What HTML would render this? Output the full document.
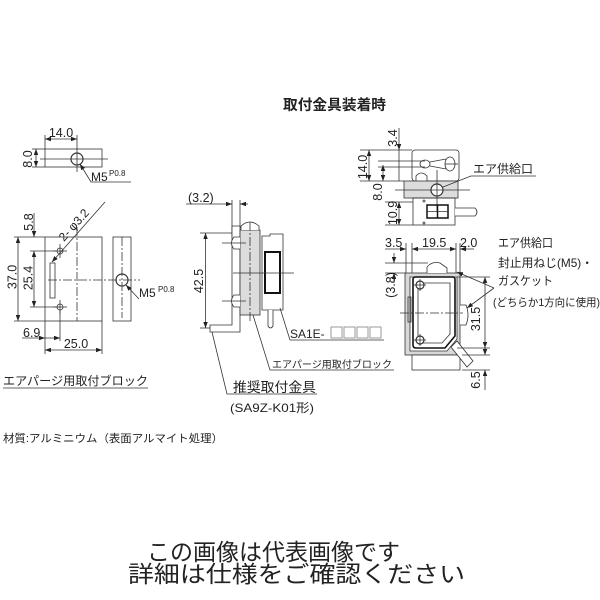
<!DOCTYPE html>
<html><head><meta charset="utf-8"><style>
html,body{margin:0;padding:0;background:#fff;}
svg{display:block;}
text{font-family:"Liberation Sans","Noto Sans CJK JP",sans-serif;fill:#222;}
.j{font-family:"Liberation Sans","Noto Sans CJK JP",sans-serif;}
</style></head><body>
<svg width="600" height="600" viewBox="0 0 600 600" xmlns="http://www.w3.org/2000/svg">
<defs>
<marker id="a" viewBox="0 0 8 6" refX="8" refY="3" markerWidth="6" markerHeight="4.5" markerUnits="userSpaceOnUse" orient="auto-start-reverse"><path d="M0,0 L8,3 L0,6 z" fill="#222"/></marker>
</defs>
<g stroke="#333" stroke-width="0.8" fill="none">

<!-- ===== LEFT TOP VIEW ===== -->
<rect x="45" y="149" width="57" height="18"/>
<circle cx="77" cy="159" r="6" stroke-width="1.2"/>
<line x1="40" y1="159" x2="108" y2="159"/>
<line x1="77" y1="135" x2="77" y2="172"/>
<line x1="45" y1="135" x2="45" y2="149"/>
<line x1="45" y1="139" x2="77" y2="139" marker-start="url(#a)" marker-end="url(#a)"/>
<line x1="32" y1="149" x2="45" y2="149"/>
<line x1="32" y1="167" x2="45" y2="167"/>
<line x1="36" y1="149" x2="36" y2="167" marker-start="url(#a)" marker-end="url(#a)"/>
<polyline points="80,164 91,182 131,182" marker-start="url(#a)"/>

<!-- ===== LEFT FRONT VIEW ===== -->
<rect x="45" y="237" width="57" height="84"/>
<line x1="77" y1="227" x2="77" y2="321" stroke-dasharray="9 2 2 2"/>
<line x1="48" y1="280" x2="140" y2="280" stroke-dasharray="9 2 2 2"/>
<circle cx="60" cy="251" r="3"/>
<line x1="53" y1="251" x2="67" y2="251"/><line x1="60" y1="244" x2="60" y2="258"/>
<circle cx="60" cy="307" r="3"/>
<line x1="53" y1="307" x2="67" y2="307"/><line x1="60" y1="300" x2="60" y2="314"/>
<rect x="50" y="263" width="5" height="35"/>
<line x1="105" y1="202" x2="52" y2="262" marker-end="url(#a)"/>
<!-- left dims -->
<line x1="14" y1="237" x2="45" y2="237"/>
<line x1="14" y1="321" x2="45" y2="321"/>
<line x1="30" y1="251" x2="56" y2="251"/>
<line x1="30" y1="307" x2="58" y2="307"/>
<line x1="18" y1="237" x2="18" y2="321" marker-start="url(#a)" marker-end="url(#a)"/>
<line x1="34" y1="213" x2="34" y2="237" marker-end="url(#a)"/>
<line x1="34" y1="251" x2="34" y2="307" marker-start="url(#a)" marker-end="url(#a)"/>
<!-- bottom dims -->
<line x1="45" y1="321" x2="45" y2="354"/>
<line x1="60" y1="310" x2="60" y2="341"/>
<line x1="102" y1="321" x2="102" y2="354"/>
<line x1="22" y1="338" x2="45" y2="338" marker-end="url(#a)"/>
<line x1="45" y1="338" x2="60" y2="338" marker-end="url(#a)"/>
<line x1="45" y1="350" x2="102" y2="350" marker-start="url(#a)" marker-end="url(#a)"/>
<!-- side view -->
<rect x="113" y="237" width="18" height="84"/>
<line x1="122" y1="237" x2="122" y2="318" stroke-dasharray="9 2 2 2"/>
<circle cx="122" cy="280" r="6" stroke-width="1.2"/>
<line x1="126" y1="285" x2="139" y2="299" marker-start="url(#a)"/>
<line x1="3" y1="388" x2="148" y2="388"/>

<!-- ===== CENTER VIEW ===== -->
<!-- (3.2) -->
<line x1="232" y1="200" x2="232" y2="237"/>
<line x1="240" y1="200" x2="240" y2="228"/>
<line x1="186" y1="204" x2="232" y2="204" marker-end="url(#a)"/>
<line x1="248" y1="204" x2="240" y2="204" marker-end="url(#a)"/>
<!-- 42.5 -->
<line x1="200" y1="233" x2="232" y2="233"/>
<line x1="200" y1="328" x2="212" y2="328"/>
<line x1="205.5" y1="233" x2="205.5" y2="328" marker-start="url(#a)" marker-end="url(#a)"/>
<!-- bracket -->
<path d="M232,226 L240,226 L240,332 L210,332 L210,325 L232,325 Z" fill="#fff"/>
<!-- block -->
<rect x="240" y="230" width="20" height="85" fill="#dcdcdc"/>
<path d="M241,230 L241,226 Q250,218 259,226 L259,230" fill="#fff"/>
<line x1="250" y1="222" x2="250" y2="322" stroke-dasharray="9 2 2 2"/>
<!-- screws -->
<path d="M240,237 L234,237 Q229,243 234,249 L240,249" fill="#fff"/>
<path d="M240,295 L234,295 Q229,301 234,307 L240,307" fill="#fff"/>
<line x1="222" y1="243" x2="246" y2="243"/><line x1="222" y1="301" x2="246" y2="301"/>
<!-- sensor -->
<path d="M262,310 L262,236 L270,236 L270,234 L283,234 L283,310 Z" fill="#fff"/>
<rect x="265" y="252" width="15" height="41" stroke="#111" stroke-width="2"/>
<path d="M268,310 L268,326 Q270.5,330 273,326 L273,310" fill="#fff"/>
<line x1="233" y1="273" x2="294" y2="273"/>
<!-- leaders -->
<polyline points="280,308 290,340 384,340"/>
<polyline points="253,315 270,370 394,370"/>
<polyline points="212,332 227,394 317,394"/>

<!-- ===== RIGHT TOP VIEW ===== -->
<rect x="412" y="150" width="47" height="31" rx="3"/>
<line x1="360" y1="150" x2="412" y2="150"/>
<line x1="360" y1="181" x2="404" y2="181"/>
<line x1="378" y1="161" x2="425" y2="161"/>
<line x1="378" y1="167" x2="425" y2="167"/>
<ellipse cx="425" cy="164" rx="5" ry="4"/>
<ellipse cx="450" cy="164" rx="5" ry="7"/>
<line x1="430" y1="162" x2="446" y2="159"/>
<line x1="430" y1="166" x2="446" y2="169"/>
<line x1="445" y1="164" x2="458" y2="164"/>
<path d="M416,181 L416,176 Q421,170 427,176 L427,181" fill="#fff"/>
<rect x="404" y="181" width="54" height="17" fill="#dcdcdc"/>
<circle cx="437" cy="190" r="6" fill="#fff" stroke-width="1.2"/>
<line x1="395" y1="190" x2="470" y2="190"/>
<line x1="437" y1="170" x2="437" y2="212"/>
<rect x="413" y="198" width="42" height="27"/>
<rect x="427" y="205" width="21" height="13" stroke="#111" stroke-width="1.5"/>
<line x1="437.5" y1="205" x2="437.5" y2="218" stroke="#111" stroke-width="1.5"/>
<line x1="427" y1="211.5" x2="448" y2="211.5"/>
<path d="M455,208 L475,208 Q479,212 475,216 L455,216" fill="#fff"/>
<circle cx="424" cy="201" r="1"/><circle cx="424" cy="223" r="1"/>
<line x1="385" y1="202" x2="413" y2="202"/>
<line x1="385" y1="225" x2="413" y2="225"/>
<line x1="369" y1="150" x2="369" y2="181" marker-start="url(#a)" marker-end="url(#a)"/>
<line x1="383" y1="165" x2="383" y2="181" marker-start="url(#a)" marker-end="url(#a)"/>
<line x1="399" y1="128" x2="399" y2="150" marker-end="url(#a)"/>
<line x1="399" y1="150" x2="399" y2="181"/>
<line x1="399" y1="202" x2="399" y2="225" marker-start="url(#a)" marker-end="url(#a)"/>
<polyline points="443,187 471,176 536,176" />

<!-- ===== RIGHT BOTTOM VIEW ===== -->
<line x1="406" y1="243" x2="406" y2="273"/>
<line x1="412" y1="243" x2="412" y2="278"/>
<line x1="456" y1="243" x2="456" y2="278"/>
<line x1="460" y1="243" x2="460" y2="273"/>
<line x1="385" y1="249" x2="406" y2="249" marker-end="url(#a)"/>
<line x1="412" y1="249" x2="456" y2="249" marker-start="url(#a)" marker-end="url(#a)"/>
<line x1="474" y1="249" x2="460" y2="249" marker-end="url(#a)"/>
<line x1="385" y1="263" x2="428" y2="263"/>
<line x1="385" y1="273" x2="405" y2="273"/>
<line x1="394" y1="253" x2="394" y2="263" marker-end="url(#a)"/>
<line x1="394" y1="283" x2="394" y2="273" marker-end="url(#a)"/>
<rect x="405" y="273" width="55" height="82" fill="#d8d8d8"/>
<path d="M410,277 L457,277 L457,339 L447,351 L410,351 Z" fill="#fff"/>
<path d="M413,279 Q413,277 416,277 L453,277 Q455,277 455,280 L455,336 L445,348 L416,348 Q413,348 413,345 Z" stroke="#111" stroke-width="1.6"/>
<path d="M418,283 L450,283 L450,334 L442,343 L418,343 Z"/>
<rect x="412" y="355" width="48" height="15" fill="#fff"/>
<circle cx="420" cy="285" r="4" fill="#fff" stroke-width="1.2"/>
<line x1="414" y1="285" x2="426" y2="285"/><line x1="420" y1="279" x2="420" y2="291"/>
<circle cx="420" cy="340" r="4" fill="#fff" stroke-width="1.2"/>
<line x1="414" y1="340" x2="426" y2="340"/><line x1="420" y1="334" x2="420" y2="346"/>
<path d="M427,273 L427,267 Q432,261 440,263 L447,268 L447,273" fill="#fff"/>
<path d="M460,305 L466,305 Q470,315 466,325 L460,325" fill="#fff"/>
<polygon points="451,347 457,341 473,361 467,367" fill="#fff"/>
<rect x="408" y="297" width="3" height="25"/>
<line x1="400" y1="313" x2="463" y2="313" stroke-dasharray="9 2 2 2"/>
<line x1="457" y1="277" x2="490" y2="277"/>
<line x1="457" y1="348" x2="490" y2="348"/>
<line x1="485" y1="277" x2="485" y2="348" marker-start="url(#a)" marker-end="url(#a)"/>
<line x1="462" y1="355" x2="490" y2="355"/>
<line x1="462" y1="370" x2="490" y2="370"/>
<line x1="485" y1="345" x2="485" y2="355" marker-end="url(#a)"/>
<line x1="485" y1="390" x2="485" y2="370" marker-end="url(#a)"/>
<line x1="494" y1="288" x2="457" y2="272" marker-end="url(#a)"/>
<line x1="494" y1="288" x2="467" y2="308" marker-end="url(#a)"/>
</g>

<!-- boxes for SA1E -->
<g stroke="#999" stroke-width="1" fill="#fff">
<rect x="331" y="327" width="11" height="11"/>
<rect x="344" y="327" width="11" height="11"/>
<rect x="357" y="327" width="11" height="11"/>
<rect x="370" y="327" width="11" height="11"/>
</g>

<!-- ===== TEXT ===== -->
<g font-size="12.5">
<text x="283" y="110" font-size="14.5" font-weight="bold" textLength="103" lengthAdjust="spacingAndGlyphs">取付金具装着時</text>

<text x="61" y="137" text-anchor="middle">14.0</text>
<text transform="translate(32,159) rotate(-90)" text-anchor="middle">8.0</text>
<text x="91" y="181" font-size="12">M5</text><text x="109" y="176" font-size="8">P0.8</text>
<text transform="translate(64,242) rotate(-48)" font-size="12">2- φ3.2</text>
<text transform="translate(33,222) rotate(-90)" text-anchor="middle">5.8</text>
<text transform="translate(16.5,277) rotate(-90)" text-anchor="middle">37.0</text>
<text transform="translate(32.5,278) rotate(-90)" text-anchor="middle">25.4</text>
<text x="139" y="297" font-size="12">M5</text><text x="158" y="292" font-size="8">P0.8</text>
<text x="23" y="337">6.9</text>
<text x="76" y="348" text-anchor="middle">25.0</text>
<text x="3" y="385" font-size="12" textLength="145" lengthAdjust="spacingAndGlyphs">エアパージ用取付ブロック</text>
<text x="3" y="442" font-size="11" textLength="220" lengthAdjust="spacingAndGlyphs">材質:アルミニウム（表面アルマイト処理）</text>

<text x="188" y="202">(3.2)</text>
<text transform="translate(203,281) rotate(-90)" text-anchor="middle">42.5</text>
<text x="290" y="338" font-size="12">SA1E-</text>
<text x="272" y="368" font-size="10" textLength="120" lengthAdjust="spacingAndGlyphs">エアパージ用取付ブロック</text>
<text x="233" y="392" font-size="13.5" textLength="83" lengthAdjust="spacingAndGlyphs">推奨取付金具</text>
<text x="230" y="412" font-size="12" textLength="84" lengthAdjust="spacingAndGlyphs">(SA9Z-K01形)</text>

<text transform="translate(397,138) rotate(-90)" text-anchor="middle">3.4</text>
<text transform="translate(367,167) rotate(-90)" text-anchor="middle">14.0</text>
<text transform="translate(382,192) rotate(-90)" text-anchor="middle">8.0</text>
<text transform="translate(397,213) rotate(-90)" text-anchor="middle">10.9</text>
<text x="473" y="173" font-size="12" textLength="60" lengthAdjust="spacingAndGlyphs">エア供給口</text>

<text x="385" y="247">3.5</text>
<text x="422" y="247">19.5</text>
<text x="460" y="247">2.0</text>
<text transform="translate(395,285) rotate(-90)" text-anchor="middle">(3.8)</text>
<text transform="translate(480,319) rotate(-90)" text-anchor="middle">31.5</text>
<text transform="translate(480,380) rotate(-90)" text-anchor="middle">6.5</text>
<text x="498" y="247" font-size="12" textLength="55" lengthAdjust="spacingAndGlyphs">エア供給口</text>
<text x="498" y="267" font-size="12" textLength="95" lengthAdjust="spacingAndGlyphs">封止用ねじ(M5)・</text>
<text x="498" y="285" font-size="12" textLength="55" lengthAdjust="spacingAndGlyphs">ガスケット</text>
<text x="493" y="306" font-size="11" textLength="107" lengthAdjust="spacingAndGlyphs">(どちらか1方向に使用)</text>

<text x="147" y="560" font-size="23" fill="#111" textLength="253" lengthAdjust="spacingAndGlyphs">この画像は代表画像です</text>
<text x="128" y="582" font-size="23" fill="#111" textLength="337" lengthAdjust="spacingAndGlyphs">詳細は仕様をご確認ください</text>
</g>
</svg>
</body></html>
